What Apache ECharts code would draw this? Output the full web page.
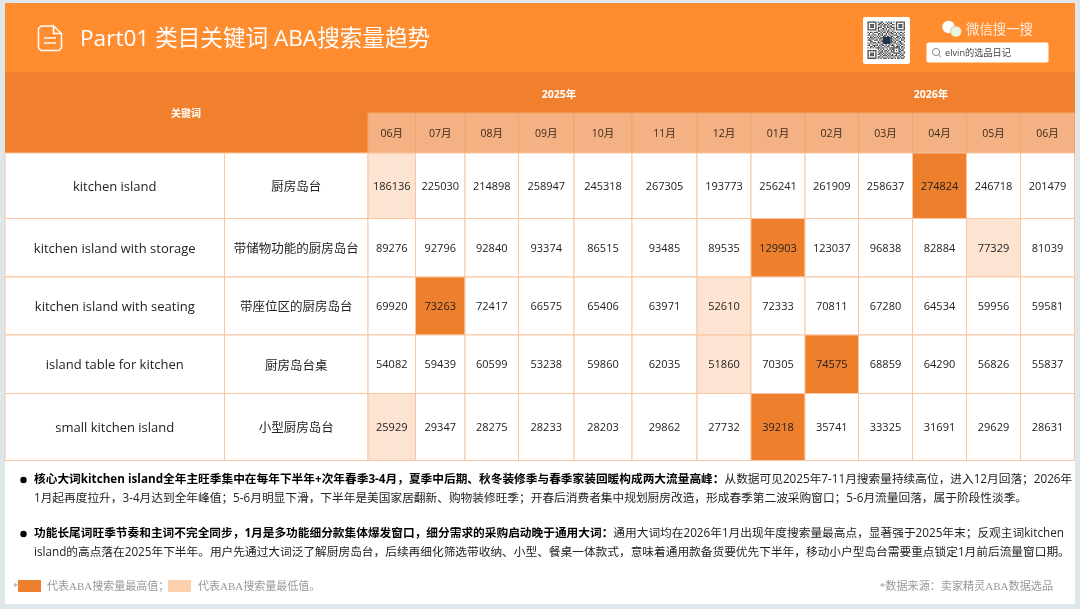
<!DOCTYPE html>
<html><head><meta charset="utf-8">
<style>html,body{margin:0;padding:0;background:#dfe7eb;}#c{width:1080px;height:609px;}</style>
<script src="https://cdn.jsdelivr.net/npm/echarts@6/dist/echarts.min.js"></script>
</head><body><div id="c"></div>
<script>
const months = ['06月','07月','08月','09月','10月','11月','12月','01月','02月','03月','04月','05月','06月'];
const keywords = ['kitchen island','kitchen island with storage','kitchen island with seating','island table for kitchen','small kitchen island'];
const translations = ['厨房岛台','带储物功能的厨房岛台','带座位区的厨房岛台','厨房岛台桌','小型厨房岛台'];
const kitchenIsland = [186136,225030,214898,258947,245318,267305,193773,256241,261909,258637,274824,246718,201479];
const withStorage = [89276,92796,92840,93374,86515,93485,89535,129903,123037,96838,82884,77329,81039];
const withSeating = [69920,73263,72417,66575,65406,63971,52610,72333,70811,67280,64534,59956,59581];
const tableFor = [54082,59439,60599,53238,59860,62035,51860,70305,74575,68859,64290,56826,55837];
const smallIsland = [25929,29347,28275,28233,28203,29862,27732,39218,35741,33325,31691,29629,28631];
const rowsData = [kitchenIsland,withStorage,withSeating,tableFor,smallIsland];
const highCell = [10,7,1,8,7];
const lowCell = [0,11,6,6,0];

const colEdges = [368,415.5,465,518.5,574,632,697,751,805,858.5,912.5,966.5,1020.5,1074.5];
const rowEdges = [153,218.5,277,335,393.5,460.5];

const qrRows = [
'11111110101100101010101111111',
'10000010011010010110001000001',
'10111010110101101001101011101',
'10111010001011010110001011101',
'10111010111001011011101011101',
'10000010100110100100101000001',
'11111110101010101010101111111',
'00000000110101011001000000000',
'10110111001011010110110101101',
'01001000110100101011001010010',
'11010110101101100100111001101',
'00101001010011011011000110010',
'10110110101100111110101101011',
'01011001011001111111010010101',
'11100111010101111110101100110',
'00110000101101111111010011001',
'10101110110011111110110101100',
'01010001001100100101001010110',
'11001111010110101011100101001',
'00110100101001011000101110110',
'10101011110110100111111110101',
'00000000101010010101100011010',
'11111110010101101010101010110',
'10000010101101010011100011001',
'10111010011010101100111110101',
'10111010110101010101001001010',
'10111010001011101011011010110',
'10000010110100010100100101001',
'11111110101011101011010110110'
];

const FONT = '"Open Sans","Noto Sans CJK SC",sans-serif';
const CJK = '"Noto Sans CJK SC",sans-serif';
const SERIF = '"Liberation Serif","Noto Sans CJK SC",serif';
const HIGH='#EE7F2D', LOW='#FDE3D1', LINE='#F9C6A0', HEAD='#F0802E', MONTH='#F4B183', BAR='#FF8D30';

const cells = [];
rowsData.forEach((r,ri)=>r.forEach((v,ci)=>cells.push([ci,ri,v])));
const labelCells = keywords.map((k,i)=>[i,k,translations[i]]);

function coordRect(api,x0,y0,x1,y1){const a=api.coord([x0,y0]),b=api.coord([x1,y1]);return {x:a[0],y:a[1],width:b[0]-a[0],height:b[1]-a[1]};}

const bodyLines = [
 {b:'核心大词kitchen island全年主旺季集中在每年下半年+次年春季3-4月，夏季中后期、秋冬装修季与春季家装回暖构成两大流量高峰：',t:'从数据可见2025年7-11月搜索量持续高位，进入12月回落；2026年',y:480},
 {b:'',t:'1月起再度拉升，3-4月达到全年峰值；5-6月明显下滑，下半年是美国家居翻新、购物装修旺季；开春后消费者集中规划厨房改造，形成春季第二波采购窗口；5-6月流量回落，属于阶段性淡季。',y:499},
 {b:'功能长尾词旺季节奏和主词不完全同步，1月是多功能细分款集体爆发窗口，细分需求的采购启动晚于通用大词：',t:'通用大词均在2026年1月出现年度搜索量最高点，显著强于2025年末；反观主词kitchen',y:534},
 {b:'',t:'island的高点落在2025年下半年。用户先通过大词泛了解厨房岛台，后续再细化筛选带收纳、小型、餐桌一体款式，意味着通用款备货要优先下半年，移动小户型岛台需要重点锁定1月前后流量窗口期。',y:553}
];

const g = [];
g.push({type:'rect',z:0,shape:{x:5,y:3,width:1070,height:601},style:{fill:'#fff'}});
g.push({type:'rect',z:1,shape:{x:5,y:3,width:1070,height:69},style:{fill:BAR}});
g.push({type:'rect',z:1,shape:{x:5,y:72,width:1070,height:81},style:{fill:HEAD}});
g.push({type:'text',z:5,style:{text:'Part01 类目关键词 ABA搜索量趋势',x:80,y:40,fill:'#fff',font:'22.6px '+FONT,verticalAlign:'middle'}});
// doc icon
g.push({type:'polyline',z:5,shape:{points:[[53,26],[41,26],[38.5,28.5],[38.5,48],[41,50.5],[59,50.5],[61.5,48],[61.5,33.5],[53.5,26],[53.5,33.5],[61.5,33.5]]},style:{fill:'none',stroke:'#fff',lineWidth:1.5}});
g.push({type:'line',z:5,shape:{x1:44,y1:38,x2:56,y2:38},style:{stroke:'#fff',lineWidth:1.4}});
g.push({type:'line',z:5,shape:{x1:44,y1:43,x2:56,y2:43},style:{stroke:'#fff',lineWidth:1.4}});
// header text
g.push({type:'text',z:5,style:{text:'关键词',x:186,y:113,fill:'#fff',font:'bold 10px '+CJK,align:'center',verticalAlign:'middle'}});
g.push({type:'text',z:5,style:{text:'2025年',x:559,y:95,fill:'#fff',font:'bold 10.5px '+FONT,align:'center',verticalAlign:'middle'}});
g.push({type:'text',z:5,style:{text:'2026年',x:931,y:95,fill:'#fff',font:'bold 10.5px '+FONT,align:'center',verticalAlign:'middle'}});
// qr
g.push({type:'rect',z:5,shape:{x:863,y:17,width:47,height:47,r:2},style:{fill:'#fff'}});
const qs=1.29, qx=867.5, qy=21.5;
qrRows.forEach((row,r)=>row.split('').forEach((ch,c)=>{ if(ch==='1') g.push({type:'rect',z:6,shape:{x:qx+c*qs,y:qy+r*qs,width:qs,height:qs},style:{fill:'#1a1a1a',opacity:.85}}); }));
g.push({type:'rect',z:7,shape:{x:883,y:37,width:7,height:7},style:{fill:'#1f3350'}});
// search
g.push({type:'rect',z:5,shape:{x:926.5,y:42.5,width:122,height:20,r:2},style:{fill:'#fff'}});
g.push({type:'circle',z:6,shape:{cx:936,cy:52,r:3.6},style:{fill:'none',stroke:'#888',lineWidth:1}});
g.push({type:'line',z:6,shape:{x1:938.6,y1:54.8,x2:941,y2:57},style:{stroke:'#888',lineWidth:1}});
g.push({type:'text',z:6,style:{text:'elvin的选品日记',x:945,y:53,fill:'#444',font:'9.2px '+FONT,verticalAlign:'middle'}});
g.push({type:'text',z:6,style:{text:'微信搜一搜',x:966,y:29,fill:'#fff',font:'13.4px '+CJK,verticalAlign:'middle',opacity:.85}});
g.push({type:'circle',z:6,shape:{cx:948.5,cy:27,r:6.2},style:{fill:'#fff'}});
g.push({type:'circle',z:6,shape:{cx:956,cy:31.5,r:5.6},style:{fill:'#E8F5E0',stroke:BAR,lineWidth:.6}});
// bullets & body text
[480,534].forEach(y=>g.push({type:'circle',z:5,shape:{cx:23.5,cy:y,r:3.2},style:{fill:'#000'}}));
bodyLines.forEach(l=>{
  g.push({type:'text',z:5,style:{
    text:(l.b?'{b|'+l.b+'}':'')+'{n|'+l.t+'}',x:34,y:l.y,verticalAlign:'middle',
    rich:{b:{font:'bold 11.7px '+FONT,fill:'#000'},n:{font:'11.7px '+FONT,fill:'#222'}}
  }});
});
// legend
g.push({type:'text',z:5,style:{text:'*',x:13,y:587,fill:'#999',font:'10px serif',verticalAlign:'middle'}});
g.push({type:'rect',z:5,shape:{x:18,y:580,width:23,height:12},style:{fill:HIGH}});
g.push({type:'text',z:5,style:{text:'代表ABA搜索量最高值；',x:47,y:587,fill:'#999',font:'11px '+SERIF,verticalAlign:'middle'}});
g.push({type:'rect',z:5,shape:{x:168,y:580,width:23,height:12},style:{fill:'#FDCFAB'}});
g.push({type:'text',z:5,style:{text:'代表ABA搜索量最低值。',x:198,y:587,fill:'#999',font:'11px '+SERIF,verticalAlign:'middle'}});
g.push({type:'text',z:5,style:{text:'*数据来源：卖家精灵ABA数据选品',x:1053,y:587,align:'right',fill:'#999',font:'11.1px '+SERIF,verticalAlign:'middle'}});

const chart = echarts.init(document.getElementById('c'),null,{renderer:'canvas',width:1080,height:609});
chart.setOption({
 animation:false,
 backgroundColor:'transparent',
 grid:{left:0,top:0,right:0,bottom:0},
 xAxis:{type:'value',min:0,max:1080,show:false},
 yAxis:{type:'value',min:0,max:609,inverse:true,show:false},
 graphic:{elements:g},
 series:[
  {type:'custom',z:3,coordinateSystem:'cartesian2d',data:months.map((m,i)=>[i,m]),encode:{x:0,y:0},silent:true,
   renderItem(p,api){const i=api.value(0);const r=coordRect(api,colEdges[i],113,colEdges[i+1],153);
    return {type:'rect',shape:r,style:{fill:MONTH,stroke:'#F5A469',lineWidth:1},
     textContent:{style:{text:months[i],fill:'#3b2a1c',font:'10.5px '+FONT}},textConfig:{position:'inside',offset:[0,1]}};}},
  {type:'custom',z:3,coordinateSystem:'cartesian2d',data:labelCells,encode:{x:0,y:0},silent:true,
   renderItem(p,api){const i=p.dataIndex;
    const a=coordRect(api,5,rowEdges[i],224.5,rowEdges[i+1]),b=coordRect(api,224.5,rowEdges[i],368,rowEdges[i+1]);
    return {type:'group',children:[
     {type:'rect',shape:a,style:{fill:'#fff',stroke:LINE,lineWidth:1},textContent:{style:{text:keywords[i],fill:'#222',font:'13px '+FONT}},textConfig:{position:'inside',offset:[0,1.5]}},
     {type:'rect',shape:b,style:{fill:'#fff',stroke:LINE,lineWidth:1},textContent:{style:{text:translations[i],fill:'#222',font:'12.5px '+CJK}},textConfig:{position:'inside',offset:[0,.5]}}
    ]};}},
  {type:'custom',z:3,coordinateSystem:'cartesian2d',data:cells,encode:{x:0,y:1},silent:true,
   renderItem(p,api){const c=api.value(0),r=api.value(1),v=api.value(2);
    const fill=highCell[r]===c?HIGH:lowCell[r]===c?LOW:'#fff';
    return {type:'rect',shape:coordRect(api,colEdges[c],rowEdges[r],colEdges[c+1],rowEdges[r+1]),
     style:{fill,stroke:LINE,lineWidth:1},
     textContent:{style:{text:String(v),fill:'#222',font:'11px '+FONT}},textConfig:{position:'inside',offset:[0,1]}};}}
 ]
});
</script></body></html>
